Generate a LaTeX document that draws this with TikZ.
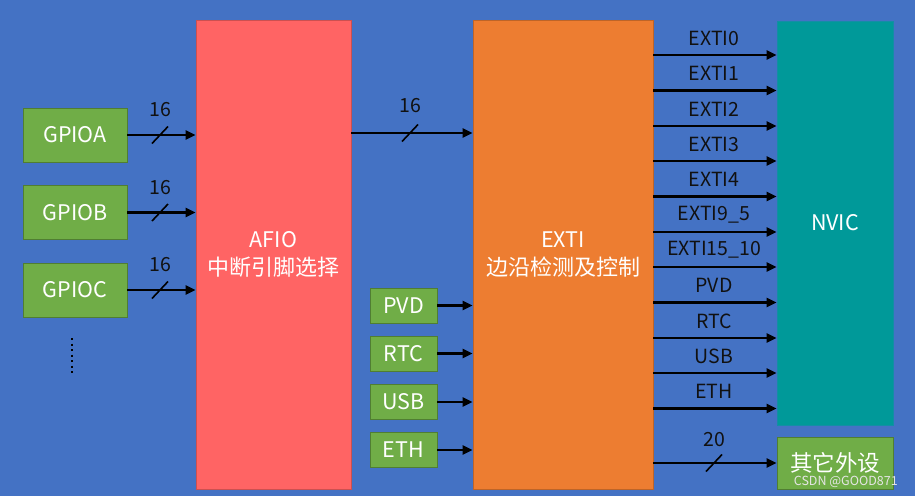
\documentclass[tikz,border=0pt]{standalone}
\usepackage{fontspec}
\setmainfont{Noto Sans CJK SC}
\usetikzlibrary{arrows.meta}
\definecolor{bgblue}{HTML}{4472C4}
\definecolor{gfill}{HTML}{70AD47}
\definecolor{gline}{HTML}{507E32}
\definecolor{afill}{HTML}{FF6464}
\definecolor{efill}{HTML}{ED7D31}
\definecolor{nfill}{HTML}{009999}
\definecolor{lblcol}{HTML}{111111}
\begin{document}
\begin{tikzpicture}[x=1pt,y=-1pt,
  boxtxt/.style={text=white, inner sep=0pt, align=center, font=\fontsize{21.5}{28}\selectfont},
  gbox/.style={boxtxt, draw=gline, line width=0.8pt, fill=gfill},
  gpiobox/.style={gbox, minimum width=104pt, minimum height=54pt},
  smallbox/.style={gbox, minimum width=67pt, minimum height=35pt},
  bigbox/.style={boxtxt, line width=0.8pt, minimum height=469pt},
  arr/.style={-{Triangle[length=10pt,width=9pt]}, line width=2.5pt, black},
  slash/.style={line width=1.6pt, black},
  lbl/.style={text=lblcol, inner sep=0pt, font=\fontsize{19.5}{22}\selectfont},
  wm/.style={text=white!80!gray, inner sep=0pt, font=\fontsize{12.5}{14}\selectfont}]
\fill[bgblue] (0,0) rectangle (915,496);
\useasboundingbox (0,0) rectangle (915,496);

% GPIO boxes
\node[gpiobox] (gpioa) at (75,135) {GPIOA};
\node[gpiobox] (gpiob) at (75,212.5) {GPIOB};
\node[gpiobox] (gpioc) at (75,290) {GPIOC};
\draw[line width=2.6pt, black, dash pattern=on 2.2pt off 3.3pt] (72,338) -- (72,374);

% big blocks
\node[bigbox, draw=afill!80!black, fill=afill, minimum width=155pt] (afio) at (273.5,254.5) {AFIO\\{\fontsize{22}{28}\selectfont 中断引脚选择}};
\node[bigbox, draw=efill!80!black, fill=efill, minimum width=180pt] (exti) at (563,254.5) {EXTI\\{\fontsize{22}{28}\selectfont 边沿检测及控制}};
\node[boxtxt, draw=nfill!70!bgblue, line width=0.8pt, fill=nfill, minimum width=116pt, minimum height=404pt] (nvic) at (835,223) {NVIC};
\node[gpiobox, minimum width=116pt, minimum height=52pt, font=\fontsize{22.5}{24}\selectfont] (other) at (835,463) {\raisebox{2.5pt}{其它外设}};

% GPIO -> AFIO
\foreach \g in {gpioa,gpiob,gpioc}{
  \draw[arr] (\g.east) -- (\g.east -| afio.west);
  \coordinate (s\g) at (160,0 |- \g.east);
  \draw[slash] (s\g) ++(-8,8.5) -- ++(16,-17);
  \node[lbl] at ([yshift=25pt]s\g) {16};
}

% AFIO -> EXTI
\coordinate (ae) at (410,133);
\draw[arr] (afio.east |- ae) -- (exti.west |- ae);
\draw[slash] (ae) ++(-8,8.5) -- ++(16,-17);
\node[lbl] at ([yshift=27pt]ae) {16};

% small inputs
\node[smallbox] (pvd) at (403.5,305.5) {PVD};
\node[smallbox] (rtc) at (403.5,353.5) {RTC};
\node[smallbox] (usb) at (403.5,402) {USB};
\node[smallbox] (eth) at (403.5,450) {ETH};
\foreach \s in {pvd,rtc,usb,eth}{
  \draw[arr] (\s.east) -- (\s.east -| exti.west);
}

% EXTI -> NVIC
\foreach \y/\t [count=\i] in {55/EXTI0,90.5/EXTI1,126/EXTI2,161/EXTI3,196.5/EXTI4,232/EXTI9\_5,267/EXTI15\_10,302.5/PVD,338/RTC,373/USB,408.5/ETH}{
  \coordinate (o\i) at (714,\y);
  \draw[arr] (exti.east |- o\i) -- (nvic.west |- o\i);
  \node[lbl] at ([yshift=17pt]o\i) {\t};
}

% EXTI -> other
\coordinate (oo) at (714,463);
\draw[arr] (exti.east |- oo) -- (other.west |- oo);
\draw[slash] (oo) ++(-8,8.5) -- ++(16,-17);
\node[lbl] at ([yshift=23pt]oo) {20};

\node[wm, anchor=east] (wmk) at (898,482) {CSDN @GOOD871};
\end{tikzpicture}
\end{document}
